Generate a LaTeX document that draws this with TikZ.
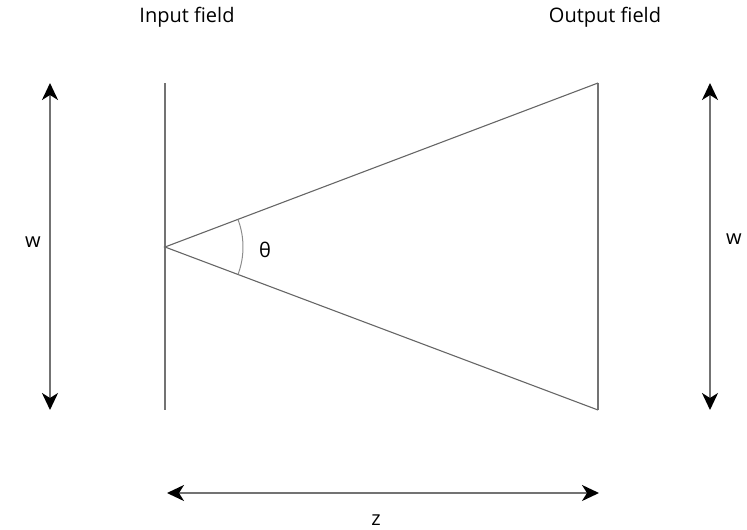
\documentclass[tikz,border=0pt]{standalone}
\usepackage{fontspec}
\setmainfont{Open Sans}
\usetikzlibrary{arrows.meta}
\begin{document}
\begin{tikzpicture}[x=1pt,y=-1pt,
  field/.style={draw=black!55,line width=2pt},
  ray/.style={draw=black!60,line width=1.1pt},
  dimarrow/.style={draw=black!55,line width=2pt,
    {Stealth[length=17pt,width=16pt,inset=5pt,color=black]}-{Stealth[length=17pt,width=16pt,inset=5pt,color=black]}},
  lbl/.style={font=\fontsize{20}{24}\selectfont,text=black,inner sep=0pt}]
\useasboundingbox (0,0) rectangle (747,530);
\coordinate (inT) at (165,83);
\coordinate (inB) at (165,410);
\coordinate (apex) at (165,247);
\coordinate (outT) at (598,83);
\coordinate (outB) at (598,410);
\coordinate (lwT) at (50,83);
\coordinate (lwB) at (50,410);
\coordinate (rwT) at (710,83);
\coordinate (rwB) at (710,410);
\coordinate (zL) at (167,493);
\coordinate (zR) at (599,493);
\draw[field] (inT) -- (inB);
\draw[field] (outT) -- (outB);
\draw[ray] (outT) -- (apex) -- (outB);
\draw[draw=black!45,line width=1pt] ([shift={(-20.6:78)}]apex) arc[start angle=-20.6,end angle=20.6,radius=78];
\draw[dimarrow] (lwB) -- (lwT);
\draw[dimarrow] (rwB) -- (rwT);
\draw[dimarrow] (zL) -- (zR);
\node[lbl] (tin) at (187,17) {Input field};
\node[lbl] (tout) at (605,17) {Output field};
\node[lbl] (wl) at (33,242) {w};
\node[lbl] (wr) at (734,239) {w};
\node[lbl] (th) at (265,250) {θ};
\node[lbl] (tz) at (376,520) {z};
\end{tikzpicture}
\end{document}
